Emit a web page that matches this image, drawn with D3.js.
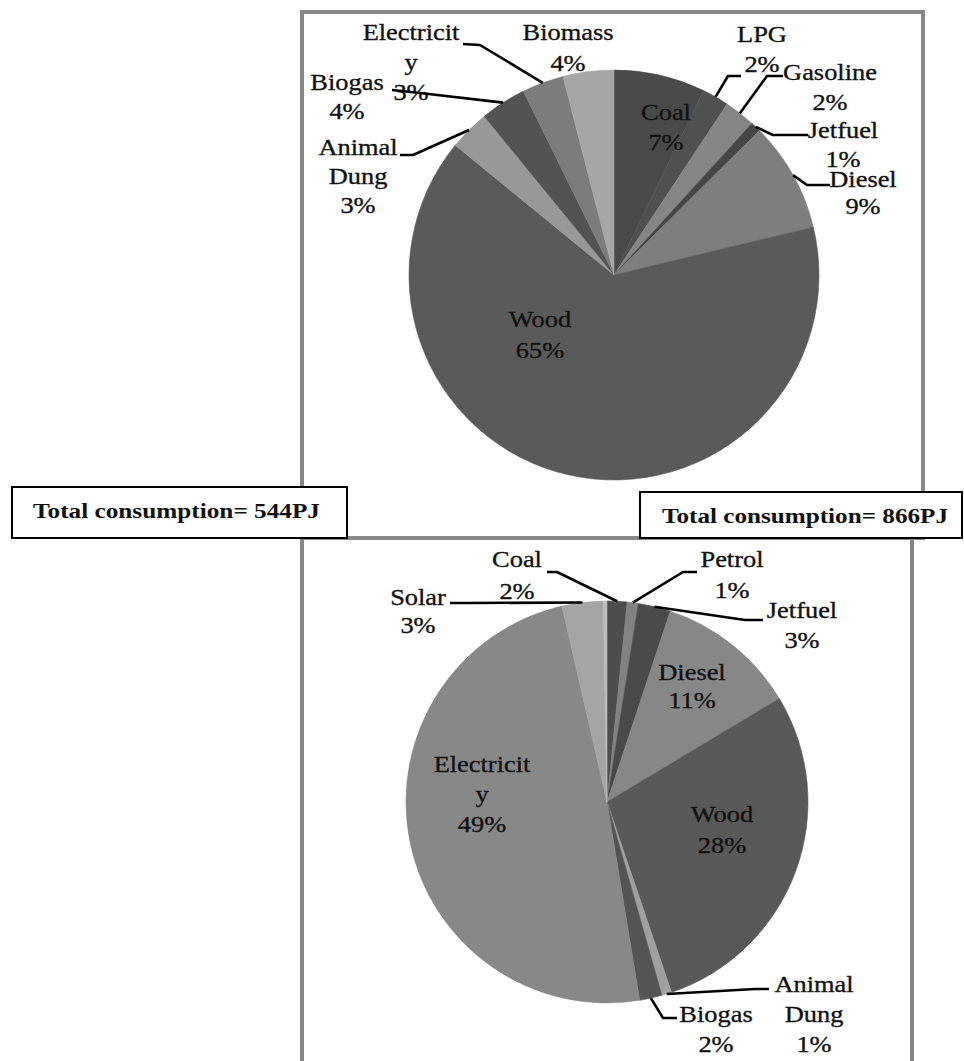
<!DOCTYPE html>
<html><head><meta charset="utf-8">
<script src="https://cdn.jsdelivr.net/npm/d3@7"></script>
<style>
html,body{margin:0;padding:0;background:#fff;}
svg{display:block;}
</style></head><body>
<svg id="chart" width="964" height="1061" style="font-family:'Liberation Serif','Times New Roman','DejaVu Serif',serif"></svg>
<script>
// ---------- Data: upper pie ----------
const topCategories = ["Coal","LPG","Gasoline","Jetfuel","Diesel","Wood","Animal Dung","Biogas","Electricity","Biomass"];
const topValues     = [7.2, 2.1, 2.45, 0.8, 8.7, 64.65, 3.2, 3.6, 3.3, 4.0];
const topColors     = ["#4a4a4a","#505050","#858585","#464646","#7e7e7e","#5a5a5a","#989898","#535353","#7c7c7c","#a6a6a6"];
const topTotalLabel = "Total consumption= 544PJ";

// ---------- Data: lower pie ----------
const bottomCategories = ["Coal","Petrol","Jetfuel","Diesel","Wood","Animal Dung","Biogas","Electricity","Solar",""];
const bottomValues     = [1.6, 0.9, 2.6, 11.3, 28.4, 0.8, 1.8, 49.0, 3.3, 0.3];
const bottomColors     = ["#4d4d4d","#828282","#4a4a4a","#878787","#595959","#a0a0a0","#545454","#888888","#a5a5a5","#bdbdbd"];
const bottomTotalLabel = "Total consumption= 866PJ";

// ---------- Layout ----------
const FONT = "'Liberation Serif','Times New Roman','DejaVu Serif',serif";
const topLayout = {
  cx: 614, cy: 275, r: 205,
  labels: {
    "Coal":        {x: 666, y: 120},
    "LPG":         {x: 762, y: 42,  leader: [[741,76],[728,76]]},
    "Gasoline":    {x: 830, y: 80,  leader: [[783,76],[767,76]]},
    "Jetfuel":     {x: 843, y: 138, dy: 29, leader: [[808,135],[773,135]]},
    "Diesel":      {x: 863, y: 187, dy: 27, leader: [[830,185],[807,185]]},
    "Wood":        {x: 540, y: 327, dy: 31},
    "Animal Dung": {x: 358, y: 155, dy: 29, leader: [[400,155],[413,155]]},
    "Biogas":      {x: 347, y: 90,  dy: 29, leader: [[392,90],[420,93]]},
    "Electricity": {x: 411, y: 40,  leader: [[463,44],[480,45]]},
    "Biomass":     {x: 568, y: 40,  dy: 31}
  }
};
const bottomLayout = {
  cx: 607, cy: 802, r: 201,
  labels: {
    "Coal":        {x: 517, y: 567, dy: 32, leader: [[547,572],[557,572]]},
    "Petrol":      {x: 732, y: 567, dy: 31, leader: [[697,572],[683,572]]},
    "Jetfuel":     {x: 802, y: 618, leader: [[763,620],[745,620]]},
    "Diesel":      {x: 692, y: 680, dy: 28},
    "Wood":        {x: 722, y: 822, dy: 31},
    "Animal Dung": {x: 814, y: 992, leader: [[769,989],[755,989]]},
    "Biogas":      {x: 716, y: 1022, leader: [[677,1018],[663,1018]]},
    "Electricity": {x: 482, y: 772},
    "Solar":       {x: 418, y: 605, dy: 28, leader: [[450,603],[470,603]]}
  }
};

const svg = d3.select("#chart");

// frames
svg.append("rect").attr("x",302).attr("y",12).attr("width",621).attr("height",526)
  .attr("fill","#fff").attr("stroke","#878787").attr("stroke-width",4);
svg.append("rect").attr("x",302).attr("y",538).attr("width",610).attr("height",560)
  .attr("fill","#fff").attr("stroke","#878787").attr("stroke-width",4);

function wrap(name){
  if (name.includes(" ")) return name.split(" ");
  if (name.length > 10) return [name.slice(0,10), name.slice(10)];
  return [name];
}

const pieGen = d3.pie().sort(null).value(d => d.v);

function drawPie(cats, vals, colors, layout){
  const data = cats.map((c,i) => ({c, v: vals[i], col: colors[i]}));
  const arcs = pieGen(data);
  const arc = d3.arc().innerRadius(0).outerRadius(layout.r);
  const pg = svg.append("g").attr("transform", `translate(${layout.cx},${layout.cy})`);
  pg.selectAll("path").data(arcs).join("path")
    .attr("d", arc)
    .attr("fill", d => d.data.col)
    .attr("stroke", d => d.data.col)
    .attr("stroke-width", 0.6);
  return arcs;
}

function drawLabels(arcs, layout){
  const tg = svg.append("g");
  const lg = svg.append("g");
  arcs.forEach(a => {
    const L = layout.labels[a.data.c];
    if (!L) return;
    const lines = wrap(a.data.c).concat([Math.round(a.data.v) + "%"]);
    const g = tg.append("g").attr("transform", `translate(${L.x},${L.y}) scale(1.1,1)`);
    lines.forEach((s,i) => {
      g.append("text").attr("x",0).attr("y", i*(L.dy || 30))
        .attr("text-anchor","middle")
        .attr("font-family", FONT).attr("font-size",24)
        .attr("fill","#111").attr("stroke","#111").attr("stroke-width",0.35)
        .text(s);
    });
    if (L.leader){
      const mid = (a.startAngle + a.endAngle)/2;
      const end = [layout.cx + layout.r*Math.sin(mid), layout.cy - layout.r*Math.cos(mid)];
      lg.append("path").attr("d", d3.line()(L.leader.concat([end])))
        .attr("fill","none").attr("stroke","#000").attr("stroke-width",2.6)
        .attr("stroke-linejoin","round");
    }
  });
}

const topArcs = drawPie(topCategories, topValues, topColors, topLayout);
const bottomArcs = drawPie(bottomCategories, bottomValues, bottomColors, bottomLayout);

// total boxes
function totalBox(x, y, w, h, tx, ty, tw, label){
  svg.append("rect").attr("x",x).attr("y",y).attr("width",w).attr("height",h)
    .attr("fill","#fff").attr("stroke","#000").attr("stroke-width",2);
  svg.append("text").attr("x",tx).attr("y",ty)
    .attr("font-family", FONT).attr("font-size",22).attr("font-weight","bold")
    .attr("fill","#111")
    .attr("textLength",tw).attr("lengthAdjust","spacingAndGlyphs")
    .text(label);
}
totalBox(12, 487, 335, 51, 33, 518, 287, topTotalLabel);
totalBox(640, 492, 322, 46, 662, 523, 286, bottomTotalLabel);

drawLabels(topArcs, topLayout);
drawLabels(bottomArcs, bottomLayout);
</script>
</body></html>
